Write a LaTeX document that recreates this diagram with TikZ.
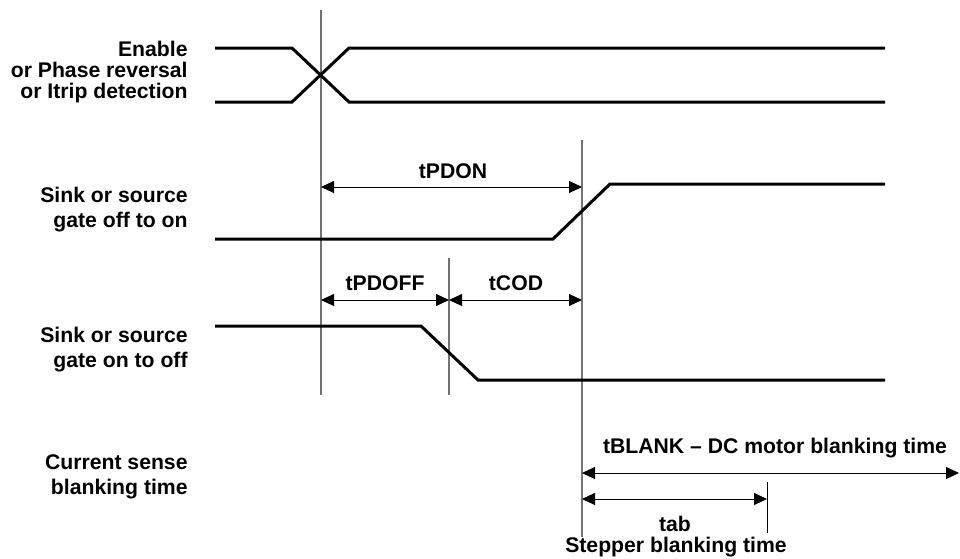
\documentclass[tikz,border=0pt]{standalone}
\usepackage{fontspec}
\setmainfont{Liberation Sans}
\usetikzlibrary{arrows.meta}

\begin{document}
\begin{tikzpicture}[x=0.5pt, y=-0.5pt,
	signal/.style={line width=1.5pt},
	marker/.style={line width=0.55pt, color=black!55},
	span/.style={line width=0.5pt, {Triangle[length=6.5pt,width=6pt]}-{Triangle[length=6.5pt,width=6pt]}},
	lbl/.style={font=\fontsize{10.6}{10.4}\selectfont\bfseries, inner sep=0pt},
	side/.style={lbl, anchor=east, align=right},
	wide/.style={side, font=\fontsize{10.6}{12.5}\selectfont\bfseries}]
			%%%%% START %%%%%
			\useasboundingbox (0, 0) rectangle (960, 558);
			
			% time markers
			\draw[marker] (321, 10) -- (321, 395);
			\draw[marker] (582, 140) -- (582, 537);
			\draw[marker] (449, 258) -- (449, 395);
			
			% enable / phase reversal / itrip
			\node[side] (en) at (188, 72) {Enable\\or Phase reversal\\or Itrip detection};
			\draw[signal] (215, 48) -- (292, 48) -- (349, 102) -- (885, 102);
			\draw[signal] (215, 102) -- (292, 102) -- (349, 48) -- (885, 48);
			
			% gate off to on
			\node[wide] (on) at (188, 210) {Sink or source\\gate off to on};
			\draw[signal] (215, 239) -- (553, 239) -- (610, 184) -- (885, 184);
			\draw[span] (321, 187) -- (582, 187);
			\node[lbl] (tpdon) at (453, 171) {tPDON};
			
			% gate on to off
			\node[wide] (off) at (188, 350) {Sink or source\\gate on to off};
			\draw[signal] (215, 326) -- (421, 326) -- (478, 380) -- (885, 380);
			\draw[span] (321, 300) -- (449, 300);
			\draw[span] (449, 300) -- (582, 300);
			\node[lbl] (tpdoff) at (385, 283) {tPDOFF};
			\node[lbl] (tcod) at (516, 283) {tCOD};
			
			% blanking
			\node[wide] (cs) at (188, 477) {Current sense\\blanking time};
			\draw[span] (582, 473) -- (959, 473);
			\node[lbl] (tblank) at (775, 448) {tBLANK -- DC motor blanking time};
			\draw[line width=0.5pt] (767, 482) -- (767, 533);
			\draw[span] (582, 499) -- (767, 499);
			\node[lbl] (tab) at (675, 524) {tab};
			\node[lbl] (step) at (676, 547) {Stepper blanking time};
			
			%%%%% END %%%%%
\end{tikzpicture}
\end{document}
